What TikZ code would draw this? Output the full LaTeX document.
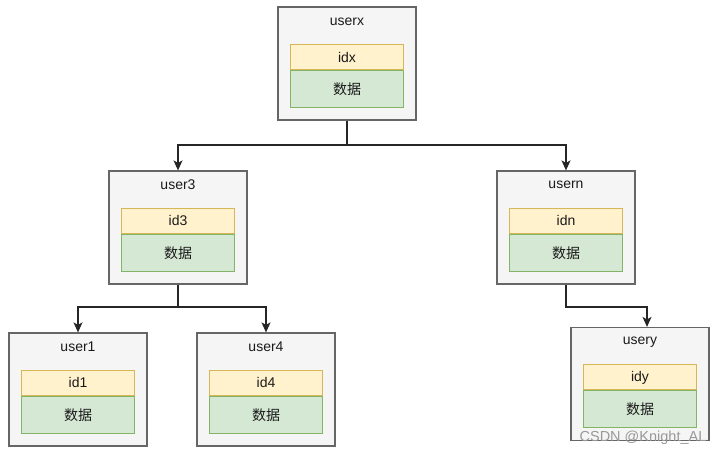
\documentclass[tikz,border=0pt]{standalone}
\usepackage{fontspec}
\setmainfont{Liberation Sans}
\newfontfamily\cjk{Noto Sans CJK SC}
\usetikzlibrary{arrows.meta,positioning,calc}
\definecolor{outerfill}{HTML}{F5F5F5}
\definecolor{outerdraw}{HTML}{666666}
\definecolor{yfill}{HTML}{FFF2CC}
\definecolor{ydraw}{HTML}{D6B656}
\definecolor{gfill}{HTML}{D5E8D4}
\definecolor{gdraw}{HTML}{82B366}
\definecolor{txt}{HTML}{1A1A1A}
\tikzset{
  outerbox/.style={draw=outerdraw, fill=outerfill, line width=1.2pt, minimum width=138pt, minimum height=113pt, inner sep=0pt},
  idbox/.style={draw=ydraw, fill=yfill, line width=1pt, minimum width=113pt, minimum height=25pt, inner sep=0pt, font=\fontsize{14}{16}\selectfont, text=txt},
  databox/.style={draw=gdraw, fill=gfill, line width=1pt, minimum width=113pt, minimum height=37pt, inner sep=0pt, font=\fontsize{14}{16}\selectfont\cjk, text=txt},
  titletext/.style={font=\fontsize{14}{16}\selectfont, text=txt, inner sep=0pt},
  conn/.style={draw=black!85, line width=1.3pt},
  arr/.style={conn, -{Stealth[length=10pt,width=9pt,inset=2.5pt]}},
}
\begin{document}
\begin{tikzpicture}[x=1pt,y=-1pt]
\useasboundingbox (0,0) rectangle (718,457);
% userx
\node[outerbox] (userx) at (347,63.5) {};
\node[titletext] (userxt) at (347,22) {userx};
\node[idbox, anchor=north] (idx) at ($(userx.north)+(0,38)$) {idx};
\node[databox, anchor=north] (dx) at (idx.south) {数据};
% user3
\node[outerbox] (user3) at (178,227.5) {};
\node[titletext] (user3t) at (178,185) {user3};
\node[idbox, anchor=north] (id3) at ($(user3.north)+(0,37.5)$) {id3};
\node[databox, anchor=north] (d3) at (id3.south) {数据};
% usern
\node[outerbox] (usern) at (566,227.5) {};
\node[titletext] (usernt) at (566,185) {usern};
\node[idbox, anchor=north] (idn) at ($(usern.north)+(0,37.5)$) {idn};
\node[databox, anchor=north] (dn) at (idn.south) {数据};
% user1
\node[outerbox] (user1) at (78,389.5) {};
\node[titletext] (user1t) at (78,347) {user1};
\node[idbox, anchor=north] (id1) at ($(user1.north)+(0,37.5)$) {id1};
\node[databox, anchor=north] (d1) at (id1.south) {数据};
% user4
\node[outerbox] (user4) at (266,389.5) {};
\node[titletext] (user4t) at (266,347) {user4};
\node[idbox, anchor=north] (id4) at ($(user4.north)+(0,37.5)$) {id4};
\node[databox, anchor=north] (d4) at (id4.south) {数据};
% usery
\node[outerbox] (usery) at (640,384) {};
\node[titletext] (useryt) at (640,342) {usery};
\node[idbox, anchor=north] (idy) at ($(usery.north)+(0,37.5)$) {idy};
\node[databox, anchor=north] (dy) at (idy.south) {数据};
% connectors
\coordinate (j1) at (347,145);
\draw[conn] (userx.south) -- (j1);
\draw[arr] (j1) -| (user3.north);
\draw[arr] (j1) -| (usern.north);
\coordinate (j2) at (178,307);
\draw[conn] (user3.south) -- (j2);
\draw[arr] (j2) -| (user1.north);
\draw[arr] (j2) -| (user4.north);
\coordinate (j3) at (647,307);
\draw[arr] (usern.south) |- (j3) -- (usery.north -| j3);
% watermark
\node[font=\fontsize{14.5}{16}\selectfont, text=black!40, inner sep=0pt] (wm) at (643,438) {CSDN @Knight\_AL};
\end{tikzpicture}
\end{document}
